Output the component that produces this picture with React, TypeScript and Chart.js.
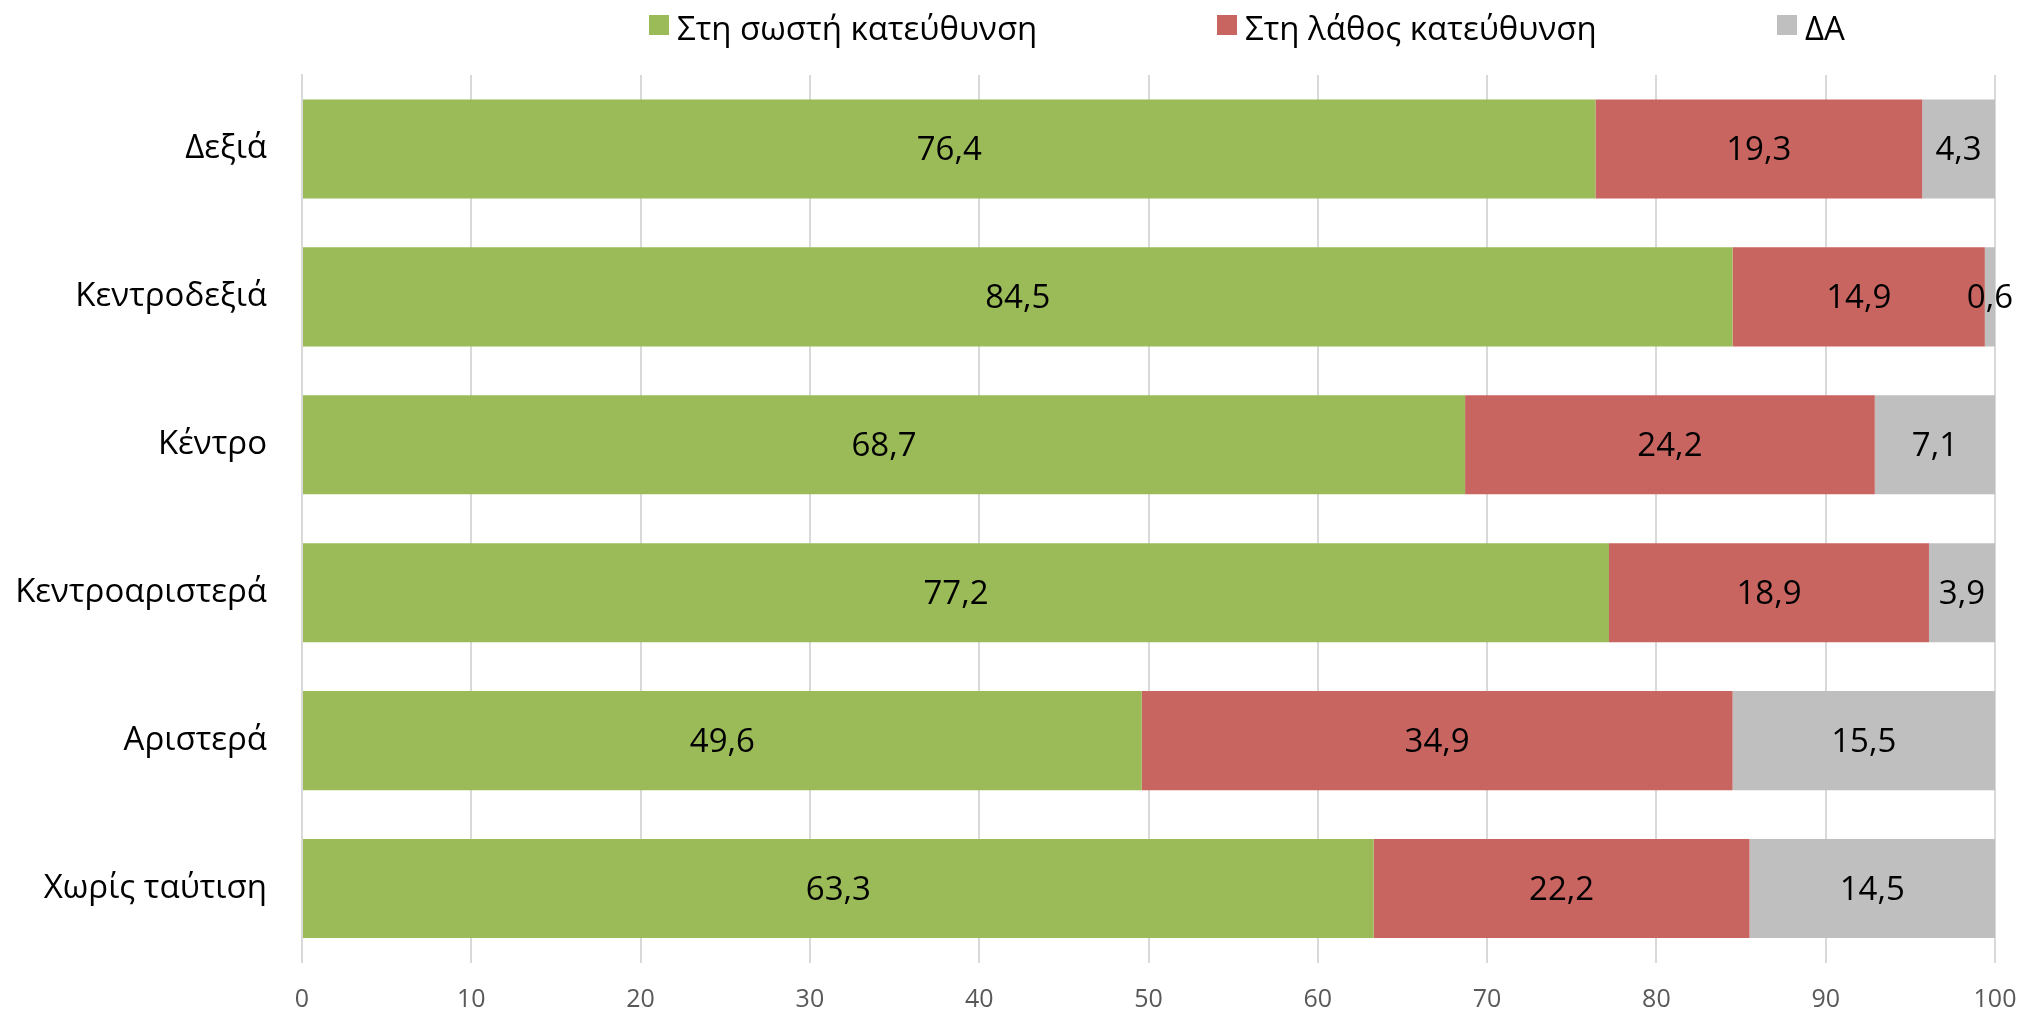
import React, { useEffect, useRef } from "react";
import { Chart, registerables } from "chart.js";

Chart.register(...registerables);

const categories = ["Δεξιά", "Κεντροδεξιά", "Κέντρο", "Κεντροαριστερά", "Αριστερά", "Χωρίς ταύτιση"];
const seriesNames = ["Στη σωστή κατεύθυνση", "Στη λάθος κατεύθυνση", "ΔΑ"];
const rightDirection = [76.4, 84.5, 68.7, 77.2, 49.6, 63.3];
const wrongDirection = [19.3, 14.9, 24.2, 18.9, 34.9, 22.2];
const dontKnow = [4.3, 0.6, 7.1, 3.9, 15.5, 14.5];
const xTickMin = 0;
const xTickMax = 100;
const xTickStep = 10;

const seriesColors = ["#9BBB59", "#C96561", "#BFBFBF"];

const legendBoxX = [649, 1217, 1777];

const dataLabelPlugin = {
  id: "dataLabels",
  afterDatasetsDraw(chart: any) {
    const ctx = chart.ctx;
    ctx.save();
    ctx.font = "33px 'Open Sans'";
    ctx.fillStyle = "#000000";
    ctx.textAlign = "center";
    ctx.textBaseline = "middle";
    chart.data.datasets.forEach((ds: any, di: number) => {
      const meta = chart.getDatasetMeta(di);
      meta.data.forEach((el: any, i: number) => {
        const p = el.getProps(["x", "y", "base"], true);
        const cx = (p.x + p.base) / 2;
        const v = ds.data[i] as number;
        ctx.fillText(v.toFixed(1).replace(".", ","), cx, p.y + 2);
      });
    });
    ctx.restore();
  },
};

const legendPlugin = {
  id: "customLegend",
  afterDraw(chart: any) {
    const ctx = chart.ctx;
    ctx.save();
    ctx.font = "500 33px 'Open Sans'";
    ctx.textBaseline = "alphabetic";
    ctx.textAlign = "left";
    chart.data.datasets.forEach((ds: any, di: number) => {
      const x = legendBoxX[di];
      ctx.fillStyle = ds.backgroundColor;
      ctx.fillRect(x, 15, 20, 20);
      ctx.fillStyle = "#000000";
      ctx.fillText(ds.label, x + 28, 40);
    });
    ctx.restore();
  },
};

export default function App() {
  const canvasRef = useRef<HTMLCanvasElement | null>(null);

  useEffect(() => {
    if (!canvasRef.current) return;
    const xTicks: number[] = [];
    for (let t = xTickMin; t <= xTickMax; t += xTickStep) xTicks.push(t);
    const chart = new Chart(canvasRef.current, {
      type: "bar",
      data: {
        labels: categories,
        datasets: [
          { label: seriesNames[0], data: rightDirection, backgroundColor: seriesColors[0] },
          { label: seriesNames[1], data: wrongDirection, backgroundColor: seriesColors[1] },
          { label: seriesNames[2], data: dontKnow, backgroundColor: seriesColors[2] },
        ],
      },
      options: {
        indexAxis: "y",
        animation: false,
        responsive: false,
        devicePixelRatio: 1,
        layout: { padding: { top: 75, right: 31, left: 0, bottom: 0 } },
        plugins: {
          legend: { display: false },
          tooltip: { enabled: false },
        },
        datasets: {
          bar: { categoryPercentage: 1, barPercentage: 0.67, borderWidth: 0 },
        },
        scales: {
          x: {
            stacked: true,
            min: xTickMin,
            max: xTickMax,
            afterBuildTicks: (scale: any) => {
              scale.ticks = xTicks.map((v) => ({ value: v }));
            },
            afterFit: (scale: any) => {
              scale.height = 46.5;
              scale.paddingLeft = 0;
              scale.paddingRight = 0;
            },
            ticks: {
              color: "#595959",
              font: { family: "'Open Sans'", size: 25 },
              padding: 22,
              maxRotation: 0,
            },
            grid: { color: "#D9D9D9", lineWidth: 2, drawTicks: false },
            border: { display: false },
          },
          y: {
            stacked: true,
            afterFit: (scale: any) => {
              scale.width = 302;
              scale.paddingTop = 0;
              scale.paddingBottom = 0;
            },
            ticks: {
              color: "#000000",
              font: { family: "'Open Sans'", size: 33 },
              padding: 35,
            },
            grid: { display: false, drawTicks: false },
            border: { display: true, color: "#D9D9D9", width: 2 },
          },
        },
      },
      plugins: [dataLabelPlugin, legendPlugin],
    } as any);
    return () => chart.destroy();
  }, []);

  return (
    <div style={{ position: "fixed", left: 0, top: 0, width: 2026, height: 1009, background: "#ffffff" }}>
      <canvas ref={canvasRef} width={2026} height={1009} style={{ display: "block" }} />
    </div>
  );
}
